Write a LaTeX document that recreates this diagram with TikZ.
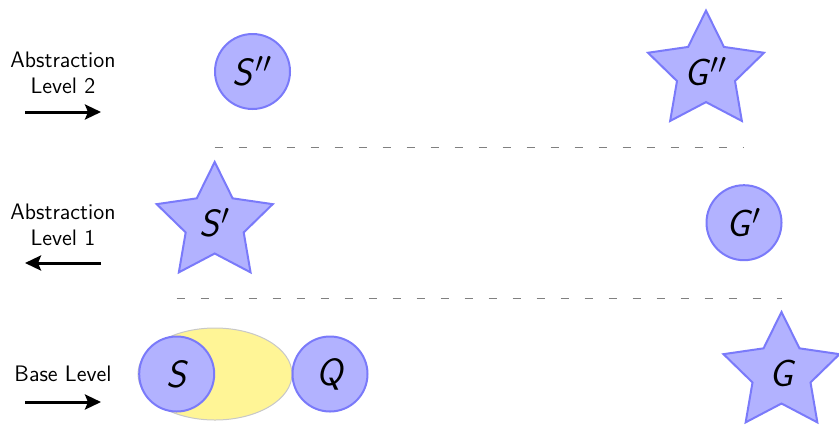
\documentclass[tikz,border=0pt]{standalone}
\usetikzlibrary{shapes.geometric,arrows.meta}
\definecolor{nodefill}{RGB}{178,178,255}
\definecolor{nodeline}{RGB}{122,122,250}
\definecolor{reachfill}{RGB}{255,245,150}
\definecolor{reachline}{RGB}{200,200,200}
\newcommand{\pr}{\kern1.2pt$'$}
\newcommand{\prr}{\kern1.2pt$''$}
\tikzset{
  statecirc/.style={circle,draw=nodeline,fill=nodefill,line width=1pt,minimum size=37.5pt,inner sep=0pt,
    font=\fontsize{19}{19}\selectfont\sffamily\itshape},
  statestar/.style={star,star points=5,star point ratio=2,draw=nodeline,fill=nodefill,line width=1pt,
    minimum size=61pt,inner sep=0pt,font=\fontsize{19}{19}\selectfont\sffamily\itshape},
  reach/.style={ellipse,draw=reachline,fill=reachfill,line width=0.5pt,minimum width=77pt,minimum height=46pt,inner sep=0pt},
  levellabel/.style={align=center,font=\fontsize{11.2}{13}\selectfont\sffamily},
  levelarrow/.style={line width=1.5pt,-{Stealth[length=8pt,width=7.5pt,inset=1.5pt]}},
  levelsep/.style={gray,line width=0.5pt,dash pattern=on 4.25pt off 7.75pt}
}
\begin{document}
\begin{tikzpicture}[x=0.5pt,y=-0.5pt]
\useasboundingbox (0,0) rectangle (839,424);
% level 2
\node[statecirc] (S2) at (252.5,71.5) {S\prr};
\node[statestar] (G2) at (706,71.6) {G\prr};
% level 1
\node[statestar] (S1) at (214.7,223) {S\pr};
\node[statecirc] (G1) at (744,222.7) {G\pr};
% base level
\node[reach] (R) at (215,374) {};
\node[statecirc] (S0) at (176.7,374) {S};
\node[statecirc] (Q) at (330,374) {Q};
\node[statestar] (G0) at (781.5,373) {G};
% separators
\coordinate (d1) at (0,147);
\coordinate (d2) at (0,298);
\draw[levelsep] (S1 |- d1) -- (G1 |- d1);
\draw[levelsep] (S0 |- d2) -- (G0 |- d2);
% level labels
\node[levellabel] (L2) at (63,73) {Abstraction\\Level 2};
\node[levellabel] (L1) at (63,224.5) {Abstraction\\Level 1};
\node[levellabel] (L0) at (63,374) {Base Level};
\coordinate (a2s) at (25,112);
\coordinate (a2e) at (101,112);
\coordinate (a1s) at (101,263);
\coordinate (a1e) at (25,263);
\coordinate (a0s) at (25,402);
\coordinate (a0e) at (101,402);
\draw[levelarrow] (a2s) -- (a2e);
\draw[levelarrow] (a1s) -- (a1e);
\draw[levelarrow] (a0s) -- (a0e);
\end{tikzpicture}
\end{document}
